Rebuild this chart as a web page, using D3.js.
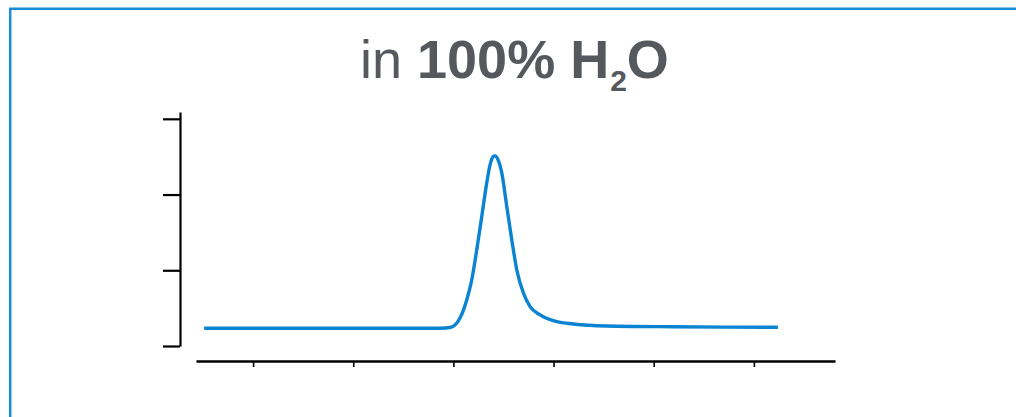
<!DOCTYPE html>
<html>
<head>
<meta charset="utf-8">
<script src="https://cdn.jsdelivr.net/npm/d3@7"></script>
<style>
  html, body { margin: 0; padding: 0; background: #fff; }
  svg { display: block; }
</style>
</head>
<body>
<svg id="chart" width="1016" height="417"></svg>
<script>
// Chromatogram trace: retention time (min) vs detector response
const retentionTime = [0.511, 1.469, 2.467, 2.866, 2.966, 3.016, 3.066, 3.133, 3.183, 3.233, 3.283, 3.333, 3.366, 3.396, 3.416, 3.446, 3.483, 3.533, 3.583, 3.633, 3.699, 3.766, 3.866, 4.033, 4.196, 4.532, 5.194, 6.240];
const response      = [0.234, 0.234, 0.234, 0.235, 0.244, 0.278, 0.370, 0.608, 0.872, 1.269, 1.709, 2.154, 2.392, 2.498, 2.511, 2.458, 2.286, 1.841, 1.401, 1.004, 0.700, 0.519, 0.410, 0.321, 0.291, 0.264, 0.254, 0.247];
const xTicks = [1, 2, 3, 4, 5, 6];
const yTicks = [0, 1, 2, 3];
const xDomain = [0.43, 6.81];
const yDomain = [0, 3.09];

const svg = d3.select("#chart");

// Panel frame (open on the right and bottom)
svg.append("path")
  .attr("d", "M10.2,417 L10.2,8.7 L1016,8.7")
  .attr("fill", "none")
  .attr("stroke", "#1b8bd6")
  .attr("stroke-width", 2.5);

// Title
const title = svg.append("text")
  .attr("x", 360)
  .attr("y", 78)
  .attr("fill", "#55585c")
  .attr("font-family", "'Liberation Sans', Arial, sans-serif")
  .attr("font-size", 54);
title.append("tspan").text("in ");
title.append("tspan").attr("font-weight", "bold").text("100% H");
title.append("tspan").attr("font-weight", "bold").attr("font-size", 30).attr("dx", 1).attr("dy", 13).text("2");
title.append("tspan").attr("font-weight", "bold").attr("dy", -13).text("O");

const x = d3.scaleLinear().domain(xDomain).range([196, 835]);
const y = d3.scaleLinear().domain(yDomain).range([346, 112]);

// Y axis
const yAxis = svg.append("g")
  .attr("transform", "translate(180,0)")
  .call(d3.axisLeft(y).tickValues(yTicks).tickSize(17).tickSizeOuter(0).tickFormat(""));
yAxis.select(".domain").attr("stroke", "#000").attr("stroke-width", 2.2);
yAxis.selectAll(".tick line").attr("stroke", "#000").attr("stroke-width", 2.2);

// X axis
const xAxis = svg.append("g")
  .attr("transform", "translate(0,361)")
  .call(d3.axisBottom(x).tickValues(xTicks).tickSize(6).tickSizeOuter(0).tickFormat(""));
xAxis.select(".domain").attr("stroke", "#000").attr("stroke-width", 2.6);
xAxis.selectAll(".tick line").attr("stroke", "#000").attr("stroke-width", 1.6);

// Trace
const pts = retentionTime.map((t, i) => [t, response[i]]);
svg.append("path")
  .datum(pts)
  .attr("fill", "none")
  .attr("stroke", "#0a84d2")
  .attr("stroke-width", 3.4)
  .attr("stroke-linejoin", "round")
  .attr("d", d3.line().x(d => x(d[0])).y(d => y(d[1])).curve(d3.curveMonotoneX));
</script>
</body>
</html>
